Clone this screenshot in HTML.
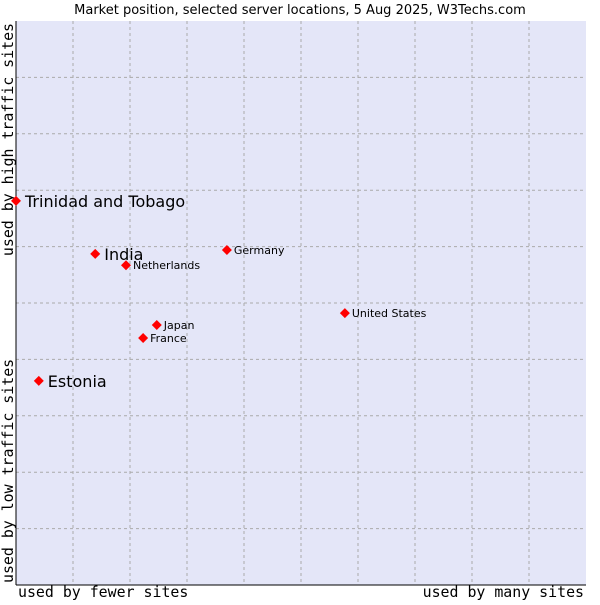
<!DOCTYPE html>
<html><head><meta charset="utf-8"><style>
body{margin:0;background:#fff}
svg text{font-family:"DejaVu Sans","Liberation Sans",sans-serif}
svg text.mono{font-family:"DejaVu Sans Mono","Liberation Mono",monospace}
</style></head><body>
<svg id="chart" width="600" height="600" xmlns="http://www.w3.org/2000/svg">
<text x="300" y="14" font-size="13" text-anchor="middle">Market position, selected server locations, 5 Aug 2025, W3Techs.com</text>
<rect x="16" y="21" width="570" height="564" fill="#e4e6f8"/>
<g id="grid"></g>
<line x1="16" y1="21" x2="16" y2="585" stroke="#000"/>
<line x1="16" y1="585" x2="586" y2="585" stroke="#000"/>
<text class="mono" x="18" y="597" font-size="14.9">used by fewer sites</text>
<text class="mono" x="584" y="597" font-size="14.9" text-anchor="end">used by many sites</text>
<text class="mono" transform="translate(13,583) rotate(-90)" font-size="14.9">used by low traffic sites</text>
<text class="mono" transform="translate(13,23) rotate(-90)" font-size="14.9" text-anchor="end">used by high traffic sites</text>
<g id="points"></g>
</svg>
<script>
const names=["Trinidad and Tobago","India","Netherlands","Germany","United States","Japan","France","Estonia"];
const xVals=[0,13.9,19.3,37.0,57.7,24.7,22.3,4.0];
const yVals=[68.1,58.7,56.7,59.4,48.2,46.1,43.8,36.2];
const bigLabel=[true,true,false,false,false,false,false,true];
const NS="http://www.w3.org/2000/svg";
const L=16,T=21,W=570,H=564;
const sx=v=>L+v/100*W, sy=v=>T+H-v/100*H;
const grid=document.getElementById('grid');
for(let i=1;i<10;i++){
  const gx=document.createElementNS(NS,'line');
  gx.setAttribute('x1',sx(i*10));gx.setAttribute('x2',sx(i*10));gx.setAttribute('y1',T);gx.setAttribute('y2',T+H);
  gx.setAttribute('stroke','#aaa');gx.setAttribute('stroke-dasharray','3,3');
  
  
  grid.appendChild(gx);
  const gy=document.createElementNS(NS,'line');
  gy.setAttribute('y1',sy(i*10));gy.setAttribute('y2',sy(i*10));gy.setAttribute('x1',L);gy.setAttribute('x2',L+W);
  gy.setAttribute('stroke','#aaa');gy.setAttribute('stroke-dasharray','3,3');
  
  
  grid.appendChild(gy);
}
const pts=document.getElementById('points');
names.forEach((n,i)=>{
  const x=sx(xVals[i]),y=sy(yVals[i]);
  const d=document.createElementNS(NS,'path');
  d.setAttribute('d',`M${x-5},${y}L${x},${y-5}L${x+5},${y}L${x},${y+5}Z`);
  d.setAttribute('fill','#f00');
  
  
  pts.appendChild(d);
  const t=document.createElementNS(NS,'text');
  const big=bigLabel[i];
  t.setAttribute('x',x+(big?9:7));t.setAttribute('y',y+(big?6:4));
  t.setAttribute('font-size',big?16:11);
  t.textContent=n;
  
  
  pts.appendChild(t);
});
</script>
</body></html>
